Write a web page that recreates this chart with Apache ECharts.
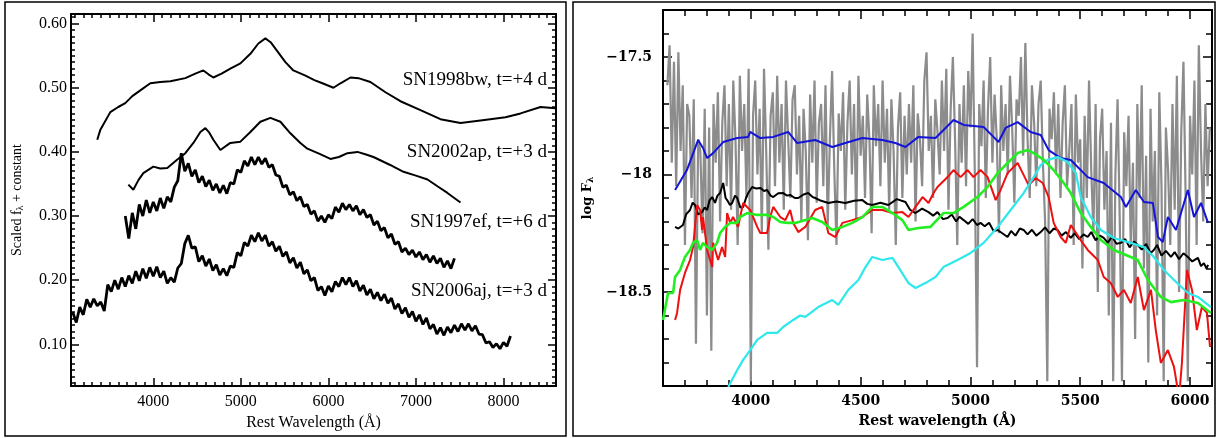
<!DOCTYPE html>
<html><head><meta charset="utf-8">
<script src="https://cdn.jsdelivr.net/npm/echarts@6/dist/echarts.min.js"></script>
<style>html,body{margin:0;padding:0;background:#fff}#c{width:1217px;height:438px}</style>
</head><body><div id="c"></div><script>
// ---------- tick labels ----------
const leftXTicks = [4000, 5000, 6000, 7000, 8000];
const leftYTicks = [0.10, 0.20, 0.30, 0.40, 0.50, 0.60];
const rightXTicks = [4000, 4500, 5000, 5500, 6000];
const rightYTicks = [-18.5, -18, -17.5];
const spectrumLabels = ['SN1998bw, t=+4 d', 'SN2002ap, t=+3 d', 'SN1997ef, t=+6 d', 'SN2006aj, t=+3 d'];

// ---------- left panel: scaled f_lambda + constant ----------
const sn1998bw = [[3360,0.419],[3394,0.434],[3509,0.462],[3600,0.470],[3680,0.476],[3760,0.487],[3852,0.496],[3966,0.507],[4080,0.509],[4195,0.510],[4366,0.515],[4480,0.522],[4572,0.527],[4630,0.521],[4686,0.516],[4780,0.522],[4880,0.530],[4995,0.538],[5109,0.553],[5200,0.569],[5280,0.577],[5340,0.571],[5395,0.561],[5509,0.540],[5600,0.527],[5738,0.519],[5840,0.512],[5932,0.507],[6058,0.500],[6138,0.507],[6252,0.516],[6343,0.515],[6480,0.509],[6652,0.493],[6823,0.479],[7052,0.465],[7280,0.451],[7509,0.445],[7738,0.449],[8023,0.454],[8195,0.460],[8423,0.470],[8595,0.468]];
const sn2002ap = [[3715,0.349],[3772,0.341],[3830,0.356],[3886,0.367],[4000,0.377],[4080,0.374],[4160,0.375],[4275,0.388],[4366,0.398],[4458,0.414],[4538,0.431],[4595,0.437],[4640,0.430],[4686,0.419],[4766,0.403],[4880,0.414],[4995,0.416],[5109,0.431],[5223,0.447],[5338,0.453],[5452,0.447],[5566,0.429],[5680,0.414],[5760,0.405],[5900,0.397],[6023,0.389],[6120,0.392],[6218,0.398],[6332,0.400],[6430,0.396],[6515,0.392],[6700,0.380],[6858,0.369],[7000,0.363],[7132,0.357],[7250,0.346],[7360,0.336],[7509,0.321]];
const sn1997efStart = 3680, sn1997efStep = 40;
const sn1997ef = [0.300,0.265,0.305,0.280,0.318,0.300,0.325,0.305,0.322,0.308,0.328,0.312,0.330,0.322,0.345,0.355,0.398,0.370,0.382,0.362,0.372,0.352,0.362,0.346,0.356,0.340,0.350,0.336,0.348,0.335,0.352,0.350,0.372,0.368,0.386,0.378,0.392,0.380,0.392,0.381,0.390,0.376,0.380,0.364,0.362,0.345,0.348,0.333,0.338,0.324,0.330,0.315,0.318,0.303,0.308,0.292,0.300,0.290,0.302,0.296,0.314,0.306,0.320,0.310,0.318,0.308,0.316,0.302,0.310,0.298,0.302,0.286,0.292,0.277,0.282,0.266,0.272,0.256,0.260,0.244,0.250,0.240,0.247,0.236,0.244,0.232,0.240,0.228,0.238,0.226,0.234,0.220,0.230,0.218,0.234];
const sn2006ajStart = 3080, sn2006ajStep = 40;
const sn2006aj = [0.150,0.134,0.158,0.146,0.170,0.158,0.171,0.160,0.166,0.152,0.193,0.182,0.200,0.186,0.204,0.190,0.207,0.195,0.214,0.199,0.218,0.203,0.220,0.206,0.221,0.204,0.214,0.195,0.204,0.197,0.219,0.226,0.257,0.270,0.250,0.252,0.229,0.238,0.222,0.233,0.215,0.224,0.208,0.218,0.207,0.222,0.220,0.243,0.238,0.259,0.253,0.270,0.260,0.274,0.261,0.270,0.253,0.260,0.245,0.253,0.237,0.244,0.227,0.235,0.219,0.228,0.210,0.216,0.199,0.204,0.184,0.190,0.176,0.191,0.182,0.198,0.190,0.204,0.193,0.204,0.190,0.199,0.183,0.192,0.177,0.186,0.171,0.181,0.168,0.178,0.164,0.172,0.155,0.163,0.148,0.157,0.142,0.151,0.136,0.146,0.131,0.141,0.124,0.131,0.116,0.126,0.114,0.127,0.118,0.130,0.120,0.132,0.122,0.132,0.121,0.129,0.116,0.115,0.102,0.104,0.095,0.101,0.093,0.103,0.097,0.113];

// ---------- right panel: log F_lambda ----------
const grayStart = 3620, grayStep = 10;
const grayFlux = [
 -17.62,-17.45,-17.95,-17.52,-18.05,-17.48,-17.90,-17.62,-18.30,-17.70,
 -17.75,-18.10,-17.68,-18.72,-17.85,-17.90,-18.25,-17.72,-18.60,-17.80,
 -18.75,-17.70,-17.95,-17.65,-18.20,-17.78,-17.62,-18.05,-17.70,-18.15,
 -17.60,-17.85,-18.30,-17.58,-17.90,-17.70,-18.10,-17.55,-18.88,-17.75,
 -17.60,-18.00,-17.72,-18.25,-17.55,-17.90,-18.32,-17.75,-17.65,-18.05,
 -17.58,-17.95,-17.70,-18.15,-17.60,-17.85,-18.10,-17.68,-17.62,-18.00,
 -17.75,-18.20,-17.72,-17.90,-18.28,-17.66,-17.95,-17.60,-18.12,-17.78,
 -17.70,-18.05,-17.62,-18.22,-17.85,-17.56,-17.98,-18.30,-17.74,-17.90,
 -17.65,-18.15,-17.78,-17.60,-18.00,-17.70,-18.20,-17.58,-17.92,-17.75,
 -18.10,-17.66,-17.85,-18.25,-17.62,-17.88,-17.70,-18.05,-17.60,-17.95,
 -17.72,-18.15,-17.68,-17.90,-18.30,-17.80,-17.65,-18.10,-17.75,-18.00,
 -17.70,-17.95,-17.62,-18.20,-17.74,-17.85,-18.05,-17.60,-17.48,-17.90,
 -17.75,-18.10,-17.68,-17.82,-18.00,-17.60,-17.90,-17.55,-18.15,-17.72,
 -17.50,-17.85,-18.30,-17.70,-17.95,-17.62,-18.05,-17.56,-17.80,-17.40,
 -18.00,-18.82,-17.70,-17.88,-17.60,-18.10,-17.72,-17.50,-17.95,-17.66,
 -17.85,-18.25,-17.62,-17.90,-17.70,-18.00,-17.58,-17.80,-18.12,-17.68,
 -17.75,-17.50,-17.92,-17.44,-17.85,-18.10,-17.62,-17.78,-18.05,-17.70,
 -17.60,-17.95,-18.20,-18.88,-17.72,-17.85,-17.65,-18.00,-17.70,-18.10,
 -17.78,-17.62,-18.05,-17.90,-17.70,-18.30,-17.66,-17.95,-17.85,-18.40,
 -17.75,-18.10,-17.60,-17.98,-18.25,-17.70,-18.50,-17.85,-17.72,-18.15,
 -17.90,-18.60,-17.78,-18.88,-18.00,-17.68,-18.20,-18.88,-17.82,-18.05,
 -17.75,-18.30,-17.95,-18.70,-17.70,-18.10,-17.62,-18.40,-17.92,-18.80,
 -17.72,-18.20,-17.90,-18.60,-17.65,-18.05,-18.88,-17.80,-17.98,-18.30,
 -17.70,-18.15,-17.58,-18.50,-17.82,-17.52,-18.10,-18.88,-17.75,-18.00,
 -17.60,-18.30,-17.45,-17.90,-18.20,-17.70,-18.05,-17.80];
const blueFlux = [[3655,-18.066],[3709,-17.981],[3760,-17.853],[3782,-17.887],[3801,-17.930],[3828,-17.909],[3874,-17.862],[3938,-17.845],[3988,-17.840],[3997,-17.819],[4043,-17.845],[4102,-17.840],[4170,-17.819],[4211,-17.866],[4293,-17.853],[4371,-17.883],[4430,-17.866],[4508,-17.845],[4599,-17.853],[4658,-17.866],[4704,-17.883],[4763,-17.840],[4841,-17.845],[4923,-17.768],[4969,-17.789],[5060,-17.798],[5105,-17.840],[5128,-17.862],[5160,-17.802],[5215,-17.777],[5274,-17.819],[5320,-17.832],[5356,-17.896],[5411,-17.930],[5457,-17.938],[5534,-18.011],[5607,-18.036],[5685,-18.096],[5708,-18.138],[5753,-18.066],[5790,-18.117],[5831,-18.121],[5854,-18.266],[5876,-18.287],[5899,-18.181],[5936,-18.236],[5990,-18.066],[6018,-18.181],[6050,-18.121],[6082,-18.206]];
const blackFlux = [[3655,-18.223],[3670,-18.230],[3691,-18.215],[3705,-18.170],[3723,-18.151],[3735,-18.120],[3746,-18.130],[3760,-18.170],[3778,-18.160],[3790,-18.140],[3801,-18.151],[3812,-18.110],[3824,-18.096],[3837,-18.121],[3848,-18.090],[3860,-18.079],[3874,-18.036],[3885,-18.100],[3892,-18.109],[3905,-18.130],[3915,-18.121],[3928,-18.090],[3938,-18.100],[3952,-18.140],[3965,-18.138],[3978,-18.100],[3988,-18.079],[4006,-18.053],[4025,-18.060],[4043,-18.057],[4060,-18.070],[4074,-18.066],[4090,-18.090],[4102,-18.096],[4125,-18.080],[4147,-18.079],[4165,-18.090],[4179,-18.087],[4200,-18.100],[4216,-18.100],[4240,-18.085],[4261,-18.079],[4280,-18.095],[4293,-18.100],[4320,-18.112],[4353,-18.121],[4390,-18.115],[4430,-18.121],[4470,-18.112],[4508,-18.109],[4530,-18.125],[4553,-18.130],[4590,-18.120],[4626,-18.130],[4665,-18.105],[4704,-18.117],[4725,-18.150],[4750,-18.164],[4780,-18.145],[4809,-18.160],[4830,-18.175],[4850,-18.160],[4875,-18.190],[4896,-18.185],[4915,-18.170],[4935,-18.200],[4950,-18.180],[4969,-18.194],[4990,-18.210],[5010,-18.190],[5030,-18.215],[5046,-18.206],[5065,-18.220],[5085,-18.205],[5105,-18.240],[5124,-18.236],[5145,-18.250],[5169,-18.266],[5185,-18.240],[5205,-18.260],[5225,-18.230],[5242,-18.236],[5260,-18.255],[5280,-18.235],[5300,-18.260],[5320,-18.245],[5340,-18.225],[5360,-18.250],[5380,-18.230],[5397,-18.236],[5415,-18.260],[5435,-18.245],[5457,-18.270],[5475,-18.250],[5495,-18.275],[5515,-18.255],[5534,-18.266],[5550,-18.245],[5570,-18.280],[5590,-18.260],[5607,-18.270],[5625,-18.290],[5645,-18.265],[5665,-18.295],[5685,-18.291],[5705,-18.275],[5725,-18.310],[5745,-18.285],[5762,-18.300],[5780,-18.320],[5800,-18.295],[5820,-18.335],[5835,-18.321],[5850,-18.300],[5870,-18.345],[5890,-18.325],[5913,-18.351],[5930,-18.330],[5950,-18.360],[5970,-18.335],[5990,-18.351],[6010,-18.370],[6036,-18.355],[6050,-18.390],[6063,-18.377],[6075,-18.400],[6082,-18.385]];
const redFlux = [[3655,-18.619],[3664,-18.589],[3678,-18.491],[3700,-18.419],[3723,-18.364],[3737,-18.309],[3755,-18.130],[3769,-18.151],[3778,-18.236],[3782,-18.181],[3801,-18.321],[3824,-18.394],[3828,-18.291],[3851,-18.364],[3869,-18.309],[3883,-18.351],[3892,-18.164],[3906,-18.206],[3919,-18.181],[3942,-18.223],[3965,-18.121],[3983,-18.138],[3997,-18.151],[4029,-18.223],[4043,-18.249],[4074,-18.249],[4088,-18.181],[4102,-18.138],[4134,-18.181],[4157,-18.194],[4179,-18.151],[4193,-18.206],[4216,-18.245],[4248,-18.223],[4293,-18.151],[4325,-18.138],[4353,-18.249],[4385,-18.266],[4417,-18.206],[4462,-18.194],[4508,-18.181],[4553,-18.151],[4599,-18.151],[4645,-18.164],[4690,-18.160],[4718,-18.181],[4750,-18.138],[4782,-18.096],[4809,-18.121],[4832,-18.079],[4850,-18.053],[4896,-18.011],[4923,-17.981],[4955,-18.011],[4987,-17.981],[5014,-18.011],[5046,-17.981],[5078,-18.011],[5115,-18.109],[5137,-18.066],[5169,-17.994],[5215,-17.951],[5238,-17.994],[5265,-18.045],[5297,-18.015],[5329,-18.036],[5356,-18.096],[5379,-18.206],[5411,-18.266],[5434,-18.291],[5457,-18.215],[5502,-18.279],[5534,-18.321],[5580,-18.364],[5607,-18.436],[5639,-18.462],[5671,-18.521],[5699,-18.491],[5730,-18.547],[5762,-18.436],[5790,-18.577],[5822,-18.491],[5844,-18.662],[5867,-18.802],[5899,-18.747],[5927,-18.819],[5950,-18.950],[5963,-18.802],[5986,-18.406],[6009,-18.491],[6031,-18.662],[6054,-18.564],[6077,-18.589],[6091,-18.734]];
const greenFlux = [[3600,-18.619],[3623,-18.504],[3646,-18.504],[3655,-18.436],[3678,-18.406],[3700,-18.351],[3723,-18.321],[3737,-18.291],[3755,-18.279],[3769,-18.321],[3782,-18.291],[3801,-18.309],[3824,-18.321],[3846,-18.291],[3860,-18.249],[3883,-18.223],[3906,-18.206],[3938,-18.206],[3951,-18.181],[3983,-18.164],[4029,-18.172],[4074,-18.172],[4102,-18.181],[4134,-18.202],[4166,-18.206],[4202,-18.206],[4280,-18.185],[4325,-18.202],[4371,-18.236],[4417,-18.223],[4462,-18.206],[4508,-18.181],[4553,-18.138],[4599,-18.138],[4645,-18.164],[4690,-18.194],[4718,-18.236],[4763,-18.228],[4818,-18.223],[4877,-18.164],[4923,-18.164],[4969,-18.138],[5032,-18.096],[5078,-18.053],[5124,-17.994],[5169,-17.951],[5215,-17.909],[5261,-17.896],[5288,-17.909],[5334,-17.938],[5379,-17.981],[5425,-18.036],[5457,-18.079],[5502,-18.164],[5548,-18.223],[5594,-18.279],[5653,-18.321],[5730,-18.351],[5762,-18.364],[5808,-18.449],[5867,-18.521],[5913,-18.543],[5972,-18.534],[6036,-18.547],[6095,-18.589]];
const cyanFlux = [[3897,-18.904],[3938,-18.832],[3965,-18.789],[3997,-18.747],[4029,-18.704],[4074,-18.674],[4120,-18.674],[4147,-18.649],[4193,-18.619],[4225,-18.600],[4248,-18.606],[4307,-18.564],[4371,-18.534],[4398,-18.555],[4444,-18.491],[4490,-18.449],[4522,-18.394],[4553,-18.351],[4599,-18.364],[4645,-18.355],[4672,-18.394],[4718,-18.462],[4750,-18.483],[4795,-18.462],[4841,-18.436],[4877,-18.394],[4941,-18.364],[5001,-18.334],[5060,-18.291],[5124,-18.223],[5183,-18.151],[5242,-18.079],[5288,-18.011],[5320,-17.960],[5352,-17.938],[5397,-17.926],[5443,-17.947],[5480,-17.994],[5502,-18.096],[5548,-18.181],[5594,-18.236],[5653,-18.270],[5730,-18.291],[5790,-18.309],[5835,-18.351],[5881,-18.406],[5927,-18.449],[5990,-18.504],[6036,-18.521],[6095,-18.564]];

// ---------- build ----------
function steps(a, b, s) { const r = []; for (let v = a; v <= b + 1e-9; v += s) r.push(+v.toFixed(4)); return r; }
function spaced(start, step, arr) { return arr.map((v, i) => [start + i * step, v]); }

const SERIF = 'Liberation Serif';
const BOLD = 'DejaVu Serif';

function mkAxis(dim, grid, pos, min, max, ticks, len, labels, lab, extra) {
  return Object.assign({
    type: 'value', gridIndex: grid, position: pos, min: min, max: max,
    axisLine: {show: true, onZero: false, lineStyle: {color: '#000', width: 2}},
    axisTick: {show: true, inside: true, length: len, customValues: ticks, lineStyle: {color: '#000', width: 1.5}},
    axisLabel: labels ? Object.assign({show: true, customValues: labels, color: '#000'}, lab) : {show: false},
    splitLine: {show: false}
  }, extra || {});
}

const LX = [3060, 8600], LY = [0.035, 0.615];
const RX = [3600, 6100], RY = [-18.9, -17.3];
const lMinX = steps(3100, 8600, 100), lMinY = steps(0.04, 0.61, 0.01);
const rMinX = steps(3600, 6100, 100), rMinY = steps(-18.9, -17.3, 0.1);

const leftLab = {fontFamily: SERIF, fontSize: 16};
const rightLab = {fontFamily: BOLD, fontSize: 14, fontWeight: 'bold'};
const plain = v => String(v);

const xAxis = [
  mkAxis('x', 0, 'bottom', LX[0], LX[1], leftXTicks, 8, leftXTicks, Object.assign({margin: 8, formatter: plain}, leftLab),
    {name: 'Rest Wavelength (Å)', nameLocation: 'middle', nameGap: 27, nameTextStyle: {fontFamily: SERIF, fontSize: 16, color: '#000'}}),
  mkAxis('x', 0, 'bottom', LX[0], LX[1], lMinX, 4, null),
  mkAxis('x', 0, 'top', LX[0], LX[1], leftXTicks, 8, null),
  mkAxis('x', 0, 'top', LX[0], LX[1], lMinX, 4, null),
  mkAxis('x', 1, 'bottom', RX[0], RX[1], rightXTicks, 9, rightXTicks, Object.assign({margin: 8, formatter: plain}, rightLab),
    {name: 'Rest wavelength (Å)', nameLocation: 'middle', nameGap: 28, nameTextStyle: {fontFamily: BOLD, fontSize: 14, fontWeight: 'bold', color: '#000'}}),
  mkAxis('x', 1, 'bottom', RX[0], RX[1], rMinX, 6, null),
  mkAxis('x', 1, 'top', RX[0], RX[1], rightXTicks, 9, null),
  mkAxis('x', 1, 'top', RX[0], RX[1], rMinX, 6, null)
];
const yAxis = [
  mkAxis('y', 0, 'left', LY[0], LY[1], leftYTicks, 8, leftYTicks, Object.assign({margin: 4, formatter: v => v.toFixed(2)}, leftLab),
    {name: 'Scaled f{s|λ} + constant', nameLocation: 'middle', nameGap: 46,
     nameTextStyle: {fontFamily: SERIF, fontSize: 14, color: '#000', rich: {s: {fontFamily: SERIF, fontSize: 10, padding: [6, 0, 0, 0]}}}}),
  mkAxis('y', 0, 'left', LY[0], LY[1], lMinY, 4, null),
  mkAxis('y', 0, 'right', LY[0], LY[1], leftYTicks, 8, null),
  mkAxis('y', 0, 'right', LY[0], LY[1], lMinY, 4, null),
  mkAxis('y', 1, 'left', RY[0], RY[1], rightYTicks, 9, rightYTicks, Object.assign({margin: 11, formatter: v => (v < 0 ? '\u2212' : '') + Math.abs(v)}, rightLab),
    {name: 'log F{s|λ}', nameLocation: 'middle', nameGap: 68,
     nameTextStyle: {fontFamily: BOLD, fontSize: 13, fontWeight: 'bold', color: '#000', rich: {s: {fontFamily: BOLD, fontSize: 9, fontWeight: 'bold', padding: [5, 0, 0, 0]}}}}),
  mkAxis('y', 1, 'left', RY[0], RY[1], rMinY, 6, null),
  mkAxis('y', 1, 'right', RY[0], RY[1], rightYTicks, 9, null),
  mkAxis('y', 1, 'right', RY[0], RY[1], rMinY, 6, null)
];

function line(name, data, xi, yi, color, width, z, extra) {
  return Object.assign({
    type: 'line', name: name, data: data, xAxisIndex: xi, yAxisIndex: yi,
    showSymbol: false, symbol: 'none', clip: true, z: z,
    lineStyle: {color: color, width: width, join: 'bevel'}, itemStyle: {color: color}, emphasis: {disabled: true}
  }, extra || {});
}

const series = [
  line('SN1998bw', sn1998bw, 0, 0, '#000', 2, 2),
  line('SN2002ap', sn2002ap, 0, 0, '#000', 2, 2),
  line('SN1997ef', spaced(sn1997efStart, sn1997efStep, sn1997ef), 0, 0, '#000', 2.8, 2),
  line('SN2006aj', spaced(sn2006ajStart, sn2006ajStep, sn2006aj), 0, 0, '#000', 2.8, 2),
  line('gray', spaced(grayStart, grayStep, grayFlux), 4, 4, '#8c8c8c', 2.2, 2),
  line('blue', blueFlux, 4, 4, '#1414d8', 2, 3),
  line('black', blackFlux, 4, 4, '#000', 2, 4),
  line('red', redFlux, 4, 4, '#ee1010', 2, 5),
  line('cyan', cyanFlux, 4, 4, '#2ee8ec', 2.2, 6),
  line('green', greenFlux, 4, 4, '#22ee22', 2.6, 7)
];

const labelY = [80, 152, 222, 291];
const graphic = [
  {type: 'rect', shape: {x: 5, y: 2, width: 561, height: 434}, style: {fill: 'none', stroke: '#000', lineWidth: 1.5}, silent: true},
  {type: 'rect', shape: {x: 573, y: 2, width: 642, height: 434}, style: {fill: 'none', stroke: '#000', lineWidth: 1.5}, silent: true}
].concat(spectrumLabels.map((t, i) => ({
  type: 'text', x: 547, y: labelY[i], silent: true,
  style: {text: t, textAlign: 'right', textVerticalAlign: 'middle', font: '19px "Liberation Serif"', fill: '#000'}
})));

const chart = echarts.init(document.getElementById('c'), null, {renderer: 'canvas'});
chart.setOption({
  animation: false,
  backgroundColor: '#fff',
  grid: [
    {left: 71, top: 14, width: 485, height: 372},
    {left: 663, top: 10, width: 549, height: 376}
  ],
  xAxis: xAxis,
  yAxis: yAxis,
  series: series,
  graphic: graphic
});
</script></body></html>
